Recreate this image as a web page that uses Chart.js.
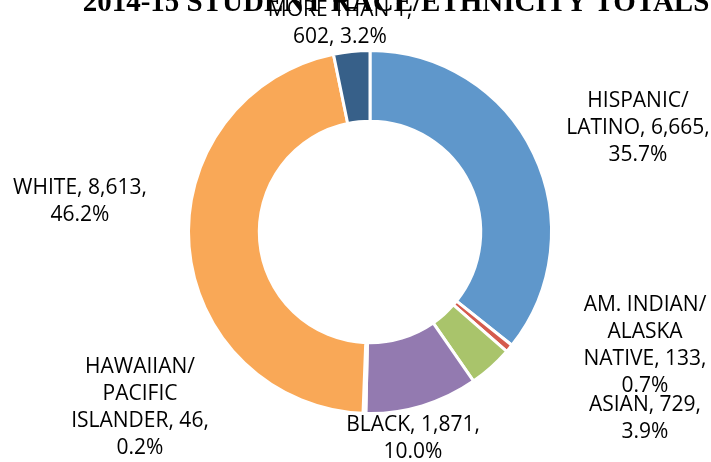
<!DOCTYPE html>
<html>
<head>
<meta charset="utf-8">
<script src="https://cdn.jsdelivr.net/npm/chart.js@4.4.1/dist/chart.umd.min.js"></script>
<style>
  html, body { margin: 0; padding: 0; background: #fff; }
  #wrap { width: 711px; height: 462px; position: relative; }
</style>
</head>
<body>
<div id="wrap"><canvas id="myChart" width="711" height="462"></canvas></div>
<script>
const TITLE = "2014-15 STUDENT RACE/ETHNICITY TOTALS";
const categories = ["HISPANIC/ LATINO", "AM. INDIAN/ ALASKA NATIVE", "ASIAN", "BLACK", "HAWAIIAN/ PACIFIC ISLANDER", "WHITE", "MORE THAN 1"];
const students = [6665, 133, 729, 1871, 46, 8613, 602];
const colors = ["#5F97CB", "#D55B4D", "#A9C46B", "#937AB0", "#4BACC6", "#F9A857", "#376089"];

// where each data label sits, relative to the doughnut centre, and how wide it may wrap
const labelPlace = [
  {dx: 268, dy: -131, wrap: 160},
  {dx: 275, dy: 73, wrap: 140},
  {dx: 275, dy: 173, wrap: 125},
  {dx: 43, dy: 193, wrap: 150},
  {dx: -230, dy: 135, wrap: 150},
  {dx: -290, dy: -44, wrap: 150},
  {dx: -30, dy: -222, wrap: 150}
];
const LINE_H = 27;

const total = students.reduce((a, b) => a + b, 0);

const wrapText = (ctx, text, maxW) => {
  const words = text.split(" ");
  let lines = [];
  let cur = "";
  words.forEach(w => {
    const test = cur ? cur + " " + w : w;
    if (cur && ctx.measureText(test).width > maxW) {
      lines.push(cur);
      cur = w;
    } else {
      cur = test;
    }
  });
  if (cur) lines.push(cur);
  return lines;
};

const labelPlugin = {
  id: "labels",
  afterDraw(chart) {
    const ctx = chart.ctx;
    const meta = chart.getDatasetMeta(0);
    const cx = meta.data[0].x;
    const cy = meta.data[0].y;
    ctx.save();
    ctx.fillStyle = "#000";
    ctx.textAlign = "center";
    ctx.textBaseline = "middle";
    ctx.font = "21px 'Open Sans'";
    categories.forEach((cat, i) => {
      const pct = (students[i] / total * 100).toFixed(1) + "%";
      const txt = cat + ", " + students[i].toLocaleString("en-US") + ", " + pct;
      const p = labelPlace[i];
      const lines = wrapText(ctx, txt, p.wrap);
      lines.forEach((ln, k) => {
        ctx.fillText(ln, cx + p.dx, cy + p.dy + k * LINE_H);
      });
    });
    // title (top is clipped in the original)
    ctx.font = "bold 29px 'Liberation Serif'";
    ctx.textBaseline = "alphabetic";
    ctx.fillText(TITLE, cx + 26, 11);
    ctx.restore();
  }
};

const ctx = document.getElementById("myChart").getContext("2d");
const myChart = new Chart(ctx, {
  type: "doughnut",
  data: {
    labels: categories,
    datasets: [{
      data: students,
      backgroundColor: colors,
      borderColor: "#fff",
      borderWidth: 3
    }]
  },
  options: {
    responsive: false,
    animation: false,
    cutout: "61%",
    layout: { padding: { top: 49, bottom: 47, left: 187, right: 158 } },
    plugins: {
      legend: { display: false },
      tooltip: { enabled: false }
    }
  },
  plugins: [labelPlugin]
});
</script>
</body>
</html>
